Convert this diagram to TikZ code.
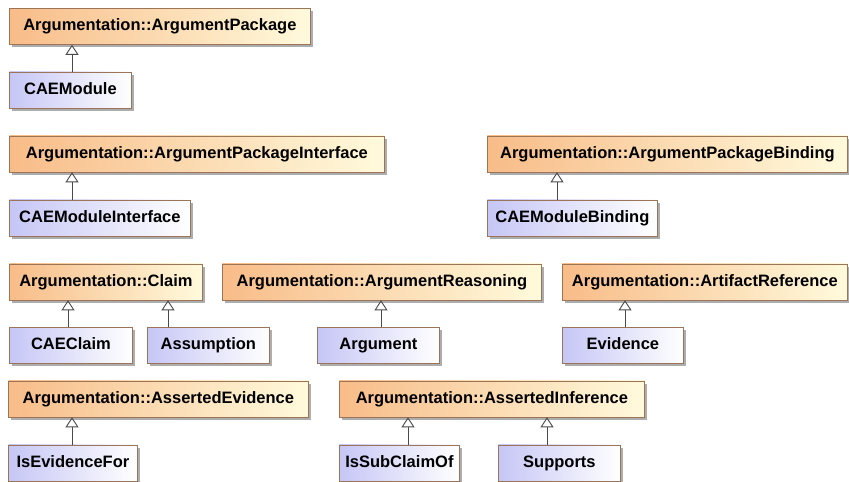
\documentclass[tikz,border=0pt]{standalone}
\usepackage{fontspec}
\setmainfont{Liberation Sans}
\usepackage{xcolor}
\definecolor{metaleft}{HTML}{F8BC88}
\definecolor{metaright}{HTML}{FFFADC}
\definecolor{caeleft}{HTML}{C6C6F6}
\definecolor{caeright}{HTML}{FFFFFF}
\definecolor{frame}{HTML}{9C7458}
\definecolor{link}{HTML}{4A4A4A}
\usetikzlibrary{arrows.meta, shadows, calc}

\tikzset{
  box/.style={draw=frame, line width=0.8pt, anchor=north west, inner sep=0pt,
    minimum height=36pt, text height=12pt, text depth=3.5pt,
    drop shadow={shadow xshift=3pt, shadow yshift=-3pt, fill=black!32, opacity=1}},
  meta/.style={box, left color=metaleft, right color=metaright},
  cae/.style={box, left color=caeleft, right color=caeright},
  gen/.style={draw=link, line width=0.9pt, -{Triangle[open, width=13pt, length=10pt, line width=0.9pt]}}
}

\begin{document}
\begin{tikzpicture}[x=1pt, y=-1pt, font=\fontsize{16.5}{18}\selectfont\bfseries]
  \useasboundingbox (0,0) rectangle (849,482);

  % metamodel classes
  \node[meta, minimum width=301pt] (ArgumentPackage) at (9,8) {Argumentation::ArgumentPackage};
  \node[meta, minimum width=375pt] (ArgumentPackageInterface) at (9,135.5) {Argumentation::ArgumentPackageInterface};
  \node[meta, minimum width=360pt] (ArgumentPackageBinding) at (487,135.5) {Argumentation::ArgumentPackageBinding};
  \node[meta, minimum width=193pt] (Claim) at (9,263.5) {Argumentation::Claim};
  \node[meta, minimum width=319pt] (ArgumentReasoning) at (222,263.5) {Argumentation::ArgumentReasoning};
  \node[meta, minimum width=285pt] (ArtifactReference) at (562,263.5) {Argumentation::ArtifactReference};
  \node[meta, minimum width=300pt] (AssertedEvidence) at (8,380.5) {Argumentation::AssertedEvidence};
  \node[meta, minimum width=305pt] (AssertedInference) at (339,380.5) {Argumentation::AssertedInference};

  % CAE classes
  \node[cae, minimum width=122pt] (CAEModule) at (9,71.5) {CAEModule};
  \node[cae, minimum width=181pt] (CAEModuleInterface) at (9,199.5) {CAEModuleInterface};
  \node[cae, minimum width=170pt] (CAEModuleBinding) at (487,199.5) {CAEModuleBinding};
  \node[cae, minimum width=123pt] (CAEClaim) at (9,327) {CAEClaim};
  \node[cae, minimum width=122pt] (Assumption) at (147,327) {Assumption};
  \node[cae, minimum width=122pt] (Argument) at (317,327) {Argument};
  \node[cae, minimum width=121pt] (Evidence) at (562,327) {Evidence};
  \node[cae, minimum width=129pt] (IsEvidenceFor) at (8,444.5) {IsEvidenceFor};
  \node[cae, minimum width=120pt] (IsSubClaimOf) at (339,444.5) {IsSubClaimOf};
  \node[cae, minimum width=122pt] (Supports) at (498,444.5) {Supports};

  % generalizations
  \draw[gen] let \p1=([xshift=63pt]CAEModule.north west), \p2=(ArgumentPackage.south) in (\p1) -- (\x1,\y2);
  \draw[gen] let \p1=([xshift=63pt]CAEModuleInterface.north west), \p2=(ArgumentPackageInterface.south) in (\p1) -- (\x1,\y2);
  \draw[gen] let \p1=([xshift=70pt]CAEModuleBinding.north west), \p2=(ArgumentPackageBinding.south) in (\p1) -- (\x1,\y2);
  \draw[gen] let \p1=([xshift=59pt]CAEClaim.north west), \p2=(Claim.south) in (\p1) -- (\x1,\y2);
  \draw[gen] let \p1=([xshift=21pt]Assumption.north west), \p2=(Claim.south) in (\p1) -- (\x1,\y2);
  \draw[gen] let \p1=([xshift=64pt]Argument.north west), \p2=(ArgumentReasoning.south) in (\p1) -- (\x1,\y2);
  \draw[gen] let \p1=([xshift=63pt]Evidence.north west), \p2=(ArtifactReference.south) in (\p1) -- (\x1,\y2);
  \draw[gen] let \p1=([xshift=64pt]IsEvidenceFor.north west), \p2=(AssertedEvidence.south) in (\p1) -- (\x1,\y2);
  \draw[gen] let \p1=([xshift=69pt]IsSubClaimOf.north west), \p2=(AssertedInference.south) in (\p1) -- (\x1,\y2);
  \draw[gen] let \p1=([xshift=49pt]Supports.north west), \p2=(AssertedInference.south) in (\p1) -- (\x1,\y2);
\end{tikzpicture}
\end{document}
